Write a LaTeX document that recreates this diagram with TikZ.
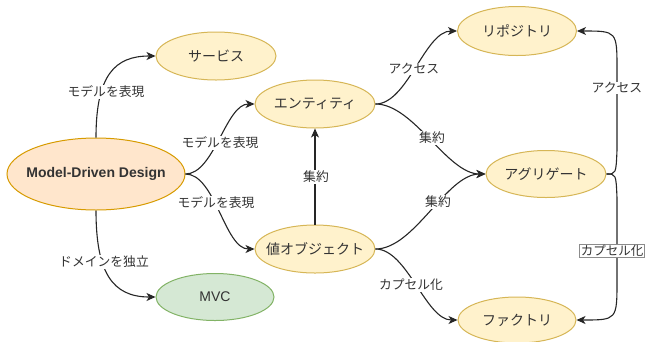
\documentclass[tikz,border=0pt]{standalone}
\usepackage{fontspec}
\setmainfont{Liberation Sans}
\newfontfamily\jp{Noto Sans CJK JP}
\usetikzlibrary{shapes.geometric,arrows.meta}
\definecolor{yfill}{HTML}{FFF2CC}
\definecolor{ystroke}{HTML}{D6B656}
\definecolor{ofill}{HTML}{FFE6CC}
\definecolor{ostroke}{HTML}{D79B00}
\definecolor{gfill}{HTML}{D5E8D4}
\definecolor{gstroke}{HTML}{82B366}
\definecolor{txt}{HTML}{333333}
\newcommand{\zb}[1]{\makebox[0pt]{#1}}
\tikzset{
  ell/.style={ellipse, draw=ystroke, fill=yfill, line width=1pt, minimum width=120pt, minimum height=48pt, inner sep=0pt, text=txt, font=\jp\fontsize{14}{16}\selectfont},
  arr/.style={-{Stealth[length=9pt,width=8pt,inset=2.5pt]}, line width=1.1pt, draw=black!85},
  lbl/.style={fill=white, inner sep=0.8pt, text=txt, font=\jp\fontsize{12.8}{15}\selectfont},
  sc/.style={out=0, in=180, looseness=0.75},
}
\begin{document}
\begin{tikzpicture}[x=1pt,y=-1pt]
\useasboundingbox (0,0) rectangle (645,341);
% nodes
\node[ell] (svc) at (216,56) {\zb{サービス}};
\node[ell] (ent) at (315,104) {\zb{エンティティ}};
\node[ell, draw=ostroke, fill=ofill, minimum width=178pt, minimum height=72pt, font=\bfseries\fontsize{14}{16}\selectfont] (mdd) at (96,174) {\zb{Model-Driven Design}};
\node[ell] (val) at (315,249) {\zb{値オブジェクト}};
\node[ell, draw=gstroke, fill=gfill, minimum width=118pt, minimum height=47pt, font=\fontsize{14}{16}\selectfont] (mvc) at (215,297) {\zb{MVC}};
\node[ell, minimum width=119pt, minimum height=49pt] (repo) at (517,31) {\zb{リポジトリ}};
\node[ell, minimum height=47pt] (agg) at (546,174) {\zb{アグリゲート}};
\node[ell, minimum width=118pt, minimum height=46pt] (fac) at (517,320) {\zb{ファクトリ}};
% connectors
\draw[arr] (mdd.north) .. controls (96,75) and (115,56) .. (svc.west);
\draw[arr] (mdd.east) to[sc] (ent.west);
\draw[arr] (mdd.east) to[sc] (val.west);
\draw[arr] (mdd.south) .. controls (96,272) and (112,297) .. (mvc.west);
\draw[arr] (val.north) -- (ent.south);
\draw[arr] (ent.east) to[sc] (repo.west);
\draw[arr] (ent.east) to[sc] (agg.west);
\draw[arr] (val.east) to[sc] (agg.west);
\draw[arr] (val.east) to[sc] (fac.west);
\draw[arr] (agg.east) .. controls (616,174) .. (617,150) -- (617,70) .. controls (617,31) .. (repo.east);
\draw[arr] (agg.east) .. controls (616,174) .. (617,198) -- (617,280) .. controls (617,320) .. (fac.east);
% labels
\node[lbl] (l1) at (106,92) {モデルを表現};
\node[lbl] (l2) at (220,143) {モデルを表現};
\node[lbl] (l3) at (216,203) {モデルを表現};
\node[lbl] (l4) at (104,262) {ドメインを独立};
\node[lbl] (l5) at (316,177) {集約};
\node[lbl] (l6) at (414,69) {アクセス};
\node[lbl] (l7) at (432,138) {集約};
\node[lbl] (l8) at (617,88) {アクセス};
\node[lbl] (l9) at (438,202) {集約};
\node[lbl] (l10) at (411,285) {カプセル化};
\node[lbl, draw=black!45, line width=0.6pt, inner sep=1pt, font=\jp\fontsize{12.5}{15}\selectfont] (l11) at (612,251) {カプセル化};
\end{tikzpicture}
\end{document}
